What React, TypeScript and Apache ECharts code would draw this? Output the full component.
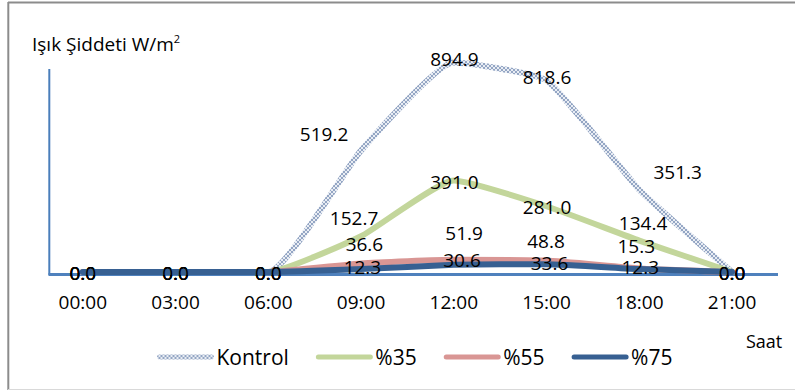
import React, { useEffect, useRef } from "react";
import * as echarts from "echarts";

const categories = ["00:00", "03:00", "06:00", "09:00", "12:00", "15:00", "18:00", "21:00"];
const kontrol = [0, 0, 0, 519.2, 894.9, 818.6, 351.3, 0];
const p35 = [0, 0, 0, 152.7, 391.0, 281.0, 134.4, 0];
const p55 = [0, 0, 0, 36.6, 51.9, 48.8, 15.3, 0];
const p75 = [0, 0, 0, 12.3, 30.6, 33.6, 12.3, 0];
const seriesNames = ["Kontrol", "%35", "%55", "%75"];
const yTitle = "Işık Şiddeti W/m";
const xTitle = "Saat";

const FONT = "'Open Sans', 'Noto Sans', sans-serif";

const labelOffsets: Record<string, number[][]> = {
  Kontrol: [[0, 1], [0, 1], [0, 1], [-37, -16.5], [0.7, -3.6], [0.5, -3.7], [38.4, -18], [0, 1]],
  "%35": [[0, 1], [0, 1], [0, 1], [-7, -18], [0.7, 1.2], [0.5, 0.5], [3.8, -18], [0, 1]],
  "%55": [[0, 1], [0, 1], [0, 1], [3.4, -19.4], [10.3, -26.6], [-0.5, -19.5], [-3, -22], [0, 1]],
  "%75": [[0, 1], [0, 1], [0, 1], [1.4, -2.5], [8.2, -4.8], [3, -1], [1, -2], [0, 1]],
};

function makePattern(): string {
  const c = document.createElement("canvas");
  c.width = 4;
  c.height = 4;
  const ctx = c.getContext("2d");
  if (!ctx) return "";
  ctx.fillStyle = "#e9edf4";
  ctx.fillRect(0, 0, 4, 4);
  ctx.fillStyle = "#94a6c4";
  const px = [[0, 0], [1, 1], [2, 2], [3, 3], [0, 3], [1, 2], [2, 1], [3, 0]];
  px.forEach(([x, y]) => ctx.fillRect(x, y, 1, 1));
  return c.toDataURL();
}

export default function App() {
  const ref = useRef<HTMLDivElement>(null);
  useEffect(() => {
    document.body.style.margin = "0";
    if (!ref.current) return;
    const chart = echarts.init(ref.current, undefined, { renderer: "svg" });
    const patternUrl = makePattern();
    const kontrolColor: any = patternUrl
      ? { image: patternUrl, repeat: "repeat", imageWidth: 4, imageHeight: 4 }
      : "#c3cbdb";

    const colors: Record<string, any> = {
      Kontrol: kontrolColor,
      "%35": "#c3d69b",
      "%55": "#d99694",
      "%75": "#376092",
    };
    const widths: Record<string, number> = { Kontrol: 6, "%35": 6, "%55": 6, "%75": 6 };
    const values = [kontrol, p35, p55, p75];

    const series = seriesNames.map((name, si) => ({
      name,
      type: "line",
      smooth: 0.15,
      symbol: "circle",
      symbolSize: 1,
      itemStyle: { color: "rgba(0,0,0,0)" },
      lineStyle: { color: colors[name], width: widths[name], cap: "round", join: "round" },
      z: 2 + si,
      label: {
        show: true,
        position: "inside",
        color: "#000",
        fontSize: 19,
        lineHeight: 15,
        fontFamily: FONT,
        formatter: (p: any) => Number(p.value).toFixed(1),
      },
      data: values[si].map((v, i) => ({
        value: v,
        label: { offset: labelOffsets[name][i] },
      })),
    }));

    chart.setOption({
      animation: false,
      backgroundColor: "#fff",
      title: {
        text: "{a|" + yTitle + "}{b|2}",
        left: 32,
        top: 33,
        padding: 0,
        textStyle: {
          fontWeight: "normal",
          rich: {
            a: { fontSize: 19, fontFamily: FONT, color: "#000", lineHeight: 22, fontWeight: "normal" },
            b: { fontSize: 11, fontFamily: FONT, color: "#000", verticalAlign: "top", lineHeight: 22, fontWeight: "normal" },
          },
        },
      },
      legend: {
        data: seriesNames,
        left: 152,
        top: 341,
        itemWidth: 52,
        itemHeight: 6,
        itemGap: 27,
        lineStyle: { width: 5, cap: "round" },
        textStyle: { fontSize: 21, fontFamily: FONT, color: "#000", lineHeight: 22 },
      },
      grid: { left: 36.4, right: 16.6, top: 38, bottom: 118 },
      xAxis: {
        type: "category",
        data: categories,
        boundaryGap: true,
        axisLine: { show: false },
        axisTick: { show: false },
        axisLabel: { color: "#000", fontSize: 19, fontFamily: FONT, margin: 20 },
        splitLine: { show: false },
      },
      yAxis: {
        type: "value",
        min: 0,
        max: 1000,
        show: false,
        splitLine: { show: false },
      },
      graphic: [
        { type: "line", shape: { x1: 8, y1: 2.5, x2: 795, y2: 2.5 }, style: { stroke: "#8c8c8c", lineWidth: 2 }, silent: true },
        { type: "line", shape: { x1: 8.3, y1: 2, x2: 8.3, y2: 390 }, style: { stroke: "#8c8c8c", lineWidth: 2 }, silent: true },
        { type: "line", shape: { x1: 8, y1: 389.5, x2: 795, y2: 389.5 }, style: { stroke: "#d9d9d9", lineWidth: 1 }, silent: true },
        { type: "line", shape: { x1: 49.3, y1: 69, x2: 49.3, y2: 275 }, style: { stroke: "#4a7ebb", lineWidth: 2 }, silent: true, z: 1 },
        { type: "line", shape: { x1: 48.5, y1: 274.5, x2: 778, y2: 274.5 }, style: { stroke: "#4f81bd", lineWidth: 3 }, silent: true, z: 1 },
        {
          type: "text",
          left: 746,
          top: 332,
          style: { text: xTitle, fontSize: 18, fontFamily: FONT, fill: "#000" },
          silent: true,
        },
      ],
      series,
    });
    return () => chart.dispose();
  }, []);
  return <div ref={ref} style={{ width: 795, height: 390 }} />;
}
